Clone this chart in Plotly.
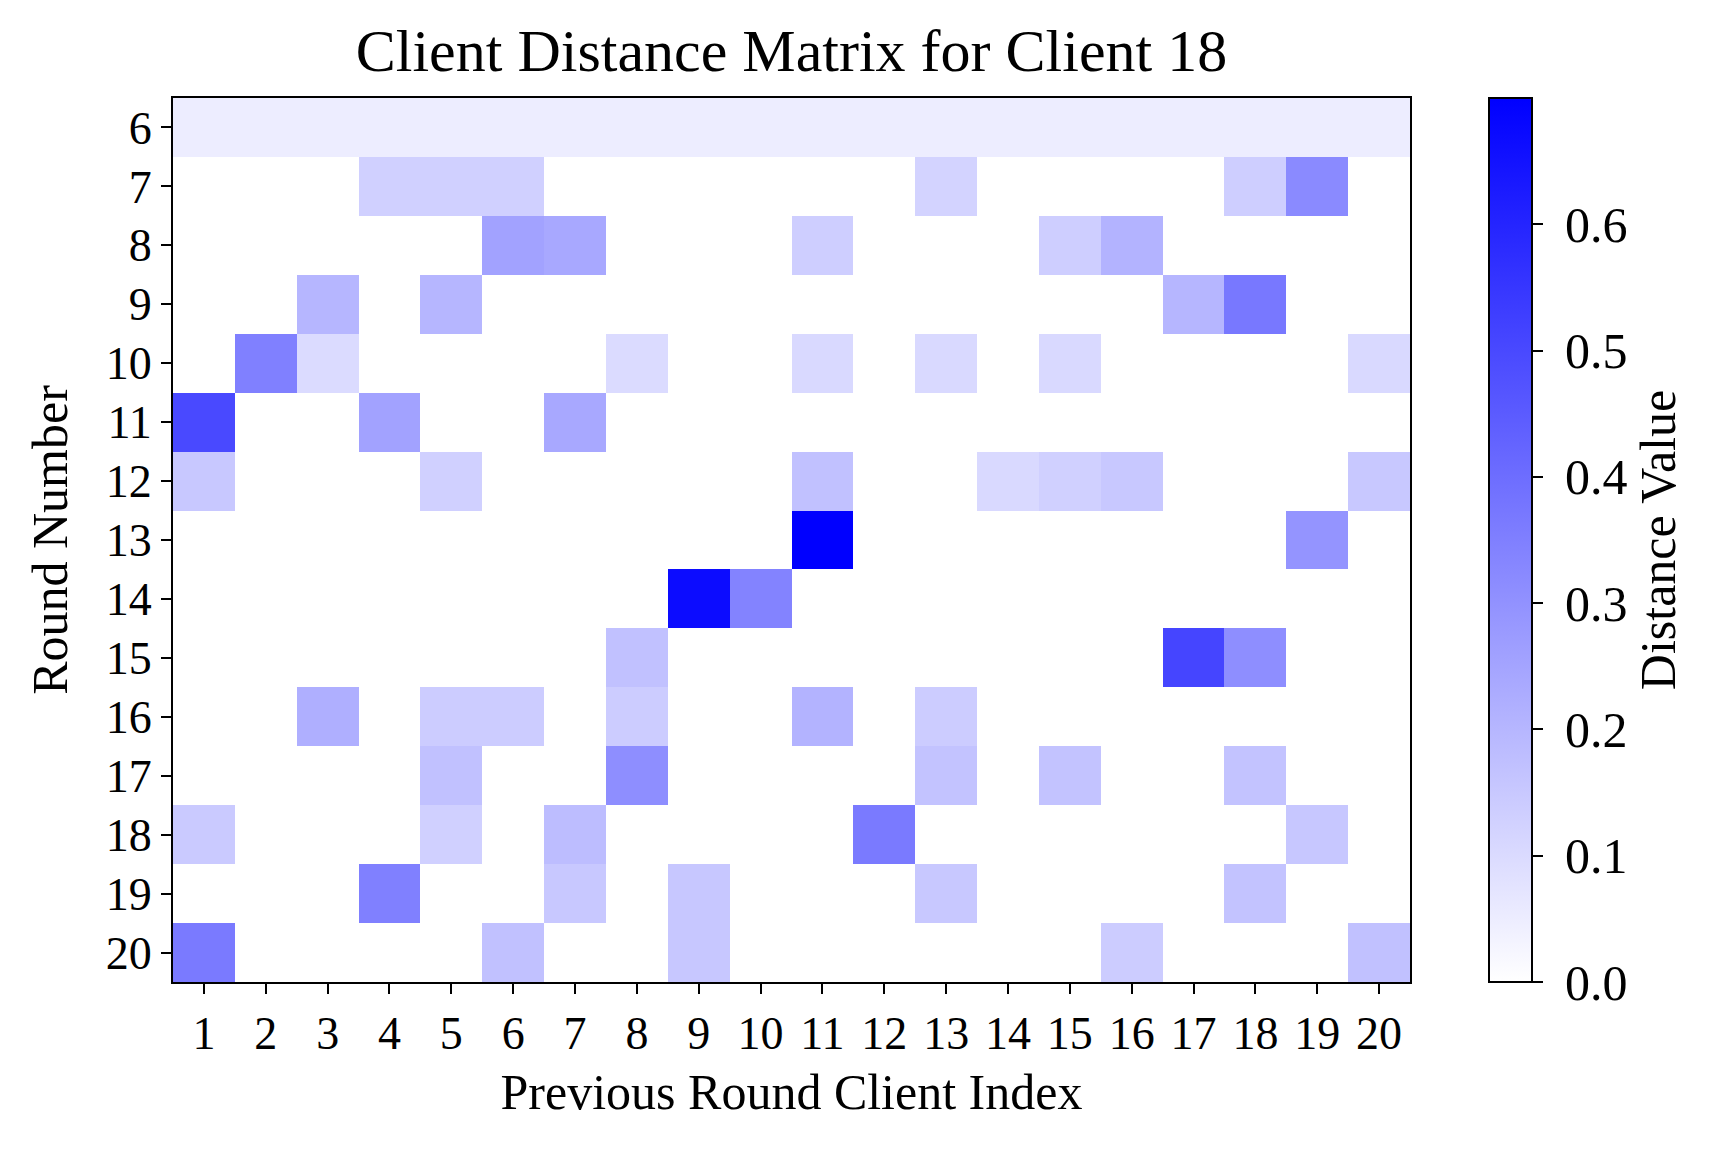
import plotly.graph_objects as go

# Client distance matrix data (rows: round number, cols: previous round client index)
rounds = list(range(6, 21))
clients = list(range(1, 21))

# non-zero entries per round, {client: distance}
row_6 = {c: 0.05 for c in clients}
row_7 = {4: 0.13, 5: 0.13, 6: 0.13, 13: 0.12, 18: 0.135, 19: 0.32}
row_8 = {6: 0.255, 7: 0.24, 11: 0.135, 15: 0.135, 16: 0.21}
row_9 = {3: 0.20, 5: 0.20, 17: 0.20, 18: 0.37}
row_10 = {2: 0.35, 3: 0.10, 8: 0.10, 11: 0.105, 13: 0.105, 15: 0.105, 20: 0.105}
row_11 = {1: 0.50, 4: 0.255, 7: 0.24}
row_12 = {1: 0.15, 5: 0.13, 11: 0.17, 14: 0.105, 15: 0.13, 16: 0.15, 20: 0.15}
row_13 = {11: 0.70, 19: 0.295}
row_14 = {9: 0.667, 10: 0.34}
row_15 = {8: 0.17, 17: 0.51, 18: 0.31}
row_16 = {3: 0.22, 5: 0.14, 6: 0.14, 8: 0.14, 11: 0.21, 13: 0.14}
row_17 = {5: 0.17, 8: 0.31, 13: 0.165, 15: 0.165, 18: 0.165}
row_18 = {1: 0.145, 5: 0.13, 7: 0.18, 12: 0.365, 19: 0.155}
row_19 = {4: 0.35, 7: 0.15, 9: 0.155, 13: 0.15, 18: 0.165}
row_20 = {1: 0.365, 6: 0.17, 9: 0.155, 16: 0.14, 20: 0.17}

rows = [row_6, row_7, row_8, row_9, row_10, row_11, row_12, row_13,
        row_14, row_15, row_16, row_17, row_18, row_19, row_20]
z = [[r.get(c, 0.0) for c in clients] for r in rows]

colorbar_ticks = [0.0, 0.1, 0.2, 0.3, 0.4, 0.5, 0.6]

FONT = "Liberation Serif, Times New Roman, serif"
L, R, T, B = 165, 316, 90, 178

fig = go.Figure(
    go.Heatmap(
        z=z,
        x=clients,
        y=rounds,
        colorscale=[[0, "#ffffff"], [1, "#0000ff"]],
        zmin=0,
        zmax=0.70,
        colorbar=dict(
            title=dict(text="Distance Value", side="right",
                       font=dict(size=50, family=FONT, color="black")),
            tickvals=colorbar_ticks,
            # nbsp padding to push labels away from the ticks like the original
            ticktext=[f"\u00a0{t:.1f}" for t in colorbar_ticks],
            ticks="outside",
            ticklen=10,
            tickwidth=2,
            tickcolor="black",
            tickfont=dict(size=50, family=FONT, color="black"),
            outlinewidth=2,
            outlinecolor="black",
            thickness=43,
            len=1,
            lenmode="fraction",
            ypad=0,
            x=1.0558,
            xanchor="left",
            y=0.5,
            yanchor="middle",
        ),
    )
)

fig.update_layout(
    width=1718,
    height=1152,
    margin=dict(l=L, r=R, t=T, b=B),
    plot_bgcolor="white",
    paper_bgcolor="white",
    font=dict(family=FONT, size=46, color="black"),
    title=dict(
        text="Client Distance Matrix for Client 18",
        x=(L + 1718 - R) / 2 / 1718,
        xanchor="center",
        y=1 - 42 / 1152,
        yanchor="middle",
        font=dict(size=60, family=FONT, color="black"),
    ),
)

fig.update_xaxes(
    title=dict(text="Previous Round Client Index", standoff=16,
               font=dict(size=50)),
    tickmode="array",
    tickvals=clients,
    ticktext=[str(c) for c in clients],
    tickfont=dict(size=46),
    ticks="outside",
    ticklen=10,
    tickwidth=2,
    tickcolor="black",
    showline=True,
    linecolor="black",
    linewidth=2,
    mirror=True,
    showgrid=False,
    zeroline=False,
    range=[0.5, 20.5],
)

fig.update_yaxes(
    title=dict(text="Round Number", standoff=22, font=dict(size=50)),
    tickmode="array",
    tickvals=rounds,
    ticktext=[str(r) for r in rounds],
    tickfont=dict(size=46),
    ticks="outside",
    ticklen=10,
    tickwidth=2,
    tickcolor="black",
    showline=True,
    linecolor="black",
    linewidth=2,
    mirror=True,
    showgrid=False,
    zeroline=False,
    range=[20.5, 5.5],
)

fig.write_html("out.html")
